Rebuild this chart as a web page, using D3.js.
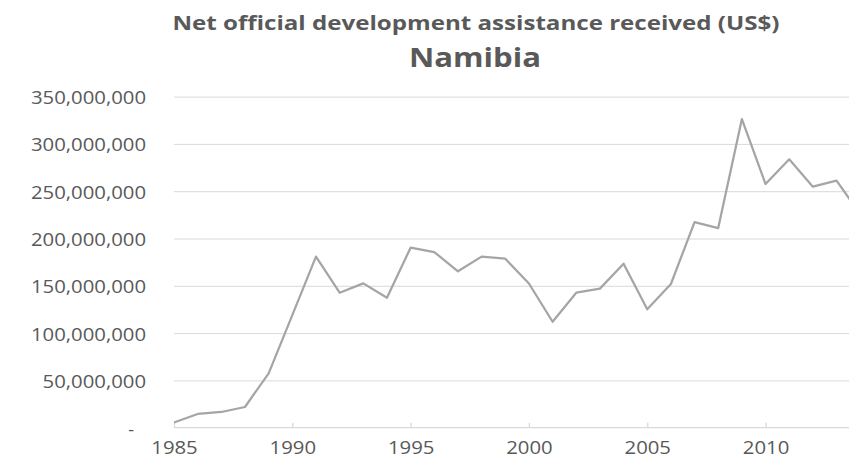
<!DOCTYPE html>
<html lang="en">
<head>
    <meta charset="UTF-8">
    <title>Net official development assistance received (US$)</title>
    <script src="https://cdn.jsdelivr.net/npm/d3@7/dist/d3.min.js"></script>
    <style>
        body { margin: 0; background: #fff; }
    </style>
</head>
<body>
    <div class="line-container"></div>
</body>
<script>
    const years = [1985, 1986, 1987, 1988, 1989, 1990, 1991, 1992, 1993, 1994,
        1995, 1996, 1997, 1998, 1999, 2000, 2001, 2002, 2003, 2004,
        2005, 2006, 2007, 2008, 2009, 2010, 2011, 2012, 2013, 2014]
    // US$
    const aid = [5.5e6, 14.5e6, 16.6e6, 21.9e6, 57.5e6, 119e6, 180.8e6, 142.7e6, 152.6e6, 137.4e6,
        190.3e6, 185.7e6, 165.3e6, 180.8e6, 178.6e6, 152.4e6, 112e6, 142.7e6, 147e6, 173.4e6,
        125.2e6, 151.9e6, 217.4e6, 211e6, 326.3e6, 257.6e6, 283.7e6, 254.8e6, 261.1e6, 226e6]
    const yTicks = [0, 50e6, 100e6, 150e6, 200e6, 250e6, 300e6, 350e6]
    const xTicks = [1985, 1990, 1995, 2000, 2005, 2010]
    const title = 'Net official development assistance received (US$)'
    const subtitle = 'Namibia'

    const width = 849
    const height = 465
    const textColor = '#595959'
    const gridColor = '#d9d9d9'

    const svg = d3.select('.line-container')
        .append('svg')
        .attr('width', width)
        .attr('height', height)

    const x = d3.scaleLinear().domain([1985, 2014]).range([174, 860.2])
    const y = d3.scaleLinear().domain([0, 350e6]).range([427.7, 96.6])

    function drawTitles() {
        svg.append('text')
            .attr('x', 476)
            .attr('y', 30)
            .attr('text-anchor', 'middle')
            .attr('font-family', 'Open Sans')
            .attr('font-weight', 'bold')
            .attr('font-size', '19px')
            .attr('fill', textColor)
            .attr('textLength', 607)
            .attr('lengthAdjust', 'spacingAndGlyphs')
            .text(title)
        svg.append('text')
            .attr('x', 475)
            .attr('y', 67)
            .attr('text-anchor', 'middle')
            .attr('font-family', 'Open Sans')
            .attr('font-weight', 'bold')
            .attr('font-size', '27px')
            .attr('fill', textColor)
            .attr('textLength', 132)
            .attr('lengthAdjust', 'spacingAndGlyphs')
            .text(subtitle)
    }

    function drawYAxis() {
        const fmt = d3.format(',')
        const yAxis = d3.axisLeft(y)
            .tickValues(yTicks)
            .tickSize(-(width - 174))
            .tickPadding(0)
            .tickFormat(d => d === 0 ? '-' : fmt(d))
        const g = svg.append('g')
            .attr('transform', 'translate(174, 0)')
            .call(yAxis)
        g.select('.domain').remove()
        g.selectAll('.tick line')
            .attr('stroke', gridColor)
            .attr('stroke-width', 1)
            .filter(d => d === 0).remove()
        g.selectAll('.tick text')
            .attr('x', null)
            .attr('dy', null)
            .attr('dominant-baseline', 'central')
            .attr('transform', d => d === 0 ? 'translate(-40, 1)' : 'translate(-28, 0) scale(1.13, 1)')
            .attr('font-family', 'Open Sans')
            .attr('font-size', '18px')
            .attr('fill', textColor)
    }

    function drawXAxis() {
        const xAxis = d3.axisBottom(x)
            .tickValues(xTicks)
            .tickSize(-5)
            .tickPadding(0)
            .tickFormat(d3.format('d'))
        const g = svg.append('g')
            .attr('transform', `translate(0, ${y(0)})`)
            .call(xAxis)
        g.select('.domain')
            .attr('d', `M174,0H${width}`)
            .attr('stroke', gridColor)
            .attr('stroke-width', 1.3)
        g.selectAll('.tick line')
            .attr('stroke', gridColor)
            .attr('stroke-width', 1.3)
        g.selectAll('.tick text')
            .attr('y', 0)
            .attr('dy', null)
            .attr('transform', 'translate(0, 26) scale(1.13, 1)')
            .attr('font-family', 'Open Sans')
            .attr('font-size', '18px')
            .attr('fill', textColor)
    }

    function drawLine() {
        const line = d3.line()
            .x((d, i) => x(years[i]))
            .y(d => y(d))
        svg.append('path')
            .datum(aid)
            .attr('d', line)
            .attr('fill', 'none')
            .attr('stroke', '#a5a5a5')
            .attr('stroke-width', 2.25)
            .attr('stroke-linejoin', 'round')
    }

    function draw() {
        drawTitles()
        drawYAxis()
        drawXAxis()
        drawLine()
    }

    draw()
</script>
</html>
